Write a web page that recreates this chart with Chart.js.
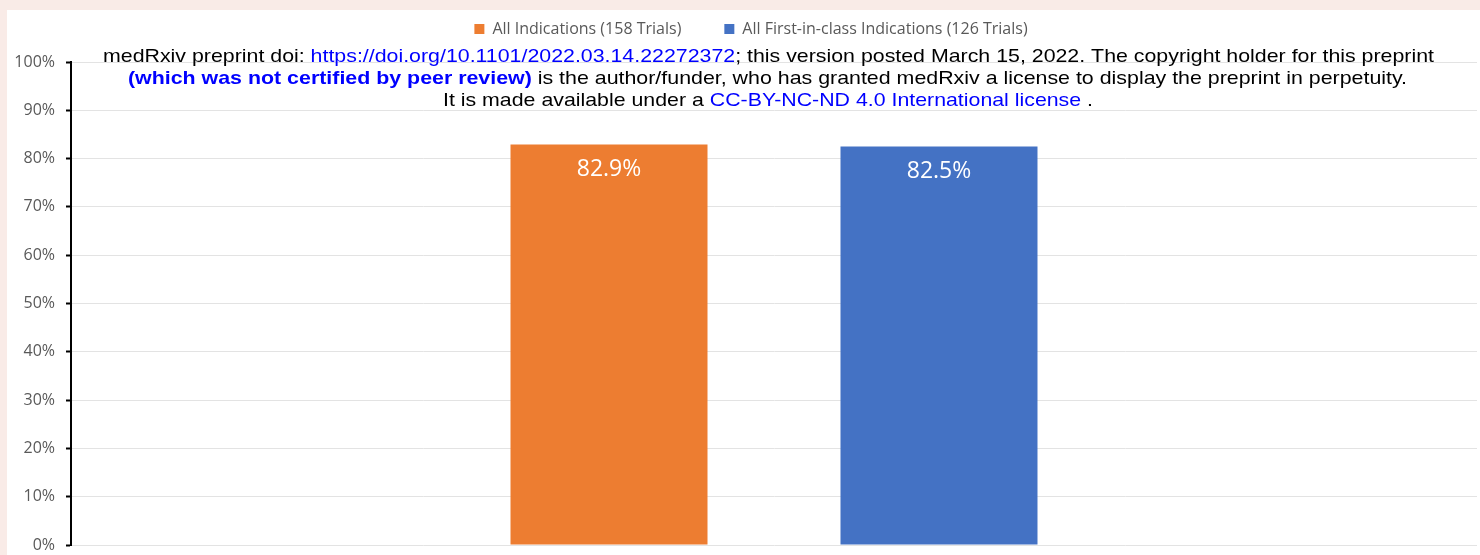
<!DOCTYPE html>
<html>
<head>
<meta charset="utf-8">
<script src="https://cdn.jsdelivr.net/npm/chart.js@4.4.0/dist/chart.umd.min.js"></script>
<style>
    html, body { margin: 0; padding: 0; background: #f9ebe7; overflow: hidden; }
    #wrap { position: absolute; left: 7px; top: 10px; width: 1473px; height: 545px; background: #fff; }
</style>
</head>
<body>
<div id="wrap"><canvas id="grafico" width="1473" height="545"></canvas></div>
<script>
var categorias = [""];
var series = ["All Indications (158 Trials)", "All First-in-class Indications (126 Trials)"];
var valores = [[82.9], [82.5]];
var cores = ["#ED7D31", "#4472C4"];
var ticksY = [0, 10, 20, 30, 40, 50, 60, 70, 80, 90, 100];

// texto do carimbo do medRxiv por cima do grafico
var linhasAviso = [
    { esq: 96, dir: 1427, base: 52, partes: [
        ["medRxiv preprint doi: ", "#000", false],
        ["https://doi.org/10.1101/2022.03.14.22272372", "#0000ff", false],
        ["; this version posted March 15, 2022. The copyright holder for this preprint", "#000", false]] },
    { esq: 121, dir: 1400, base: 74, partes: [
        ["(which was not certified by peer review)", "#0000ff", true],
        [" is the author/funder, who has granted medRxiv a license to display the preprint in perpetuity.", "#000", false]] },
    { esq: 436, dir: 1086, base: 96, partes: [
        ["It is made available under a ", "#000", false],
        ["CC-BY-NC-ND 4.0 International license", "#0000ff", false],
        [" .", "#000", false]] }
];

var rotulosBarras = {
    id: 'rotulosBarras',
    afterDatasetsDraw: function (chart) {
        var ctx = chart.ctx;
        ctx.save();
        ctx.font = '23px "Open Sans"';
        ctx.fillStyle = '#fff';
        ctx.textAlign = 'center';
        ctx.textBaseline = 'middle';
        chart.data.datasets.forEach(function (ds, i) {
            chart.getDatasetMeta(i).data.forEach(function (bar, j) {
                ctx.fillText(ds.data[j].toFixed(1) + '%', bar.x, bar.y + 25);
            });
        });
        ctx.restore();
    }
};

var aviso = {
    id: 'aviso',
    afterDraw: function (chart) {
        var ctx = chart.ctx;
        ctx.save();
        ctx.textBaseline = 'alphabetic';
        ctx.textAlign = 'left';
        linhasAviso.forEach(function (l) {
            var total = 0;
            l.partes.forEach(function (p) {
                ctx.font = (p[2] ? 'bold ' : '') + '19px "Liberation Sans"';
                total += ctx.measureText(p[0]).width;
            });
            var sx = (l.dir - l.esq) / total;
            ctx.save();
            ctx.translate(l.esq, l.base);
            ctx.scale(sx, 1);
            var x = 0;
            l.partes.forEach(function (p) {
                ctx.font = (p[2] ? 'bold ' : '') + '19px "Liberation Sans"';
                ctx.fillStyle = p[1];
                ctx.fillText(p[0], x, 0);
                x += ctx.measureText(p[0]).width;
            });
            ctx.restore();
        });
        ctx.restore();
    }
};

var espacoLegenda = {
    id: 'espacoLegenda',
    beforeInit: function (chart) {
        var fit = chart.legend.fit;
        chart.legend.fit = function () {
            fit.call(this);
            this.height += 15;
        };
    },
    afterLayout: function (chart) {
        // deixa os rotulos do eixo y usarem a margem da esquerda
        chart.scales.y.left = 0;
    }
};

var grafico = new Chart(document.getElementById('grafico'), {
    type: 'bar',
    data: {
        labels: categorias,
        datasets: series.map(function (nome, i) {
            return {
                label: nome,
                data: valores[i],
                backgroundColor: cores[i],
                categoryPercentage: 0.4694,
                barPercentage: 0.597
            };
        })
    },
    options: {
        responsive: false,
        animation: false,
        devicePixelRatio: 1,
        layout: { padding: { left: 18, right: 3, top: -32, bottom: 10 } },
        plugins: {
            legend: {
                position: 'top',
                labels: {
                    boxWidth: 10,
                    boxHeight: 10,
                    padding: 43,
                    color: '#595959',
                    font: { family: 'Open Sans', size: 16 }
                }
            },
            tooltip: { enabled: false }
        },
        scales: {
            x: {
                display: false
            },
            y: {
                min: 0,
                max: 100,
                afterFit: function (s) {
                    s.width = 46;
                    s.paddingBottom = 0;
                    s.paddingTop = 0;
                },
                afterBuildTicks: function (s) {
                    s.ticks = ticksY.map(function (v) { return { value: v }; });
                },
                ticks: {
                    padding: 11,
                    color: '#595959',
                    font: { family: 'Open Sans', size: 16 },
                    callback: function (v) { return v + '%'; }
                },
                grid: {
                    color: '#e3e3e3',
                    tickColor: '#000',
                    tickLength: 5,
                    tickWidth: 2
                },
                border: { display: true, color: '#000', width: 2 }
            }
        }
    },
    plugins: [rotulosBarras, aviso, espacoLegenda]
});
</script>
</body>
</html>
